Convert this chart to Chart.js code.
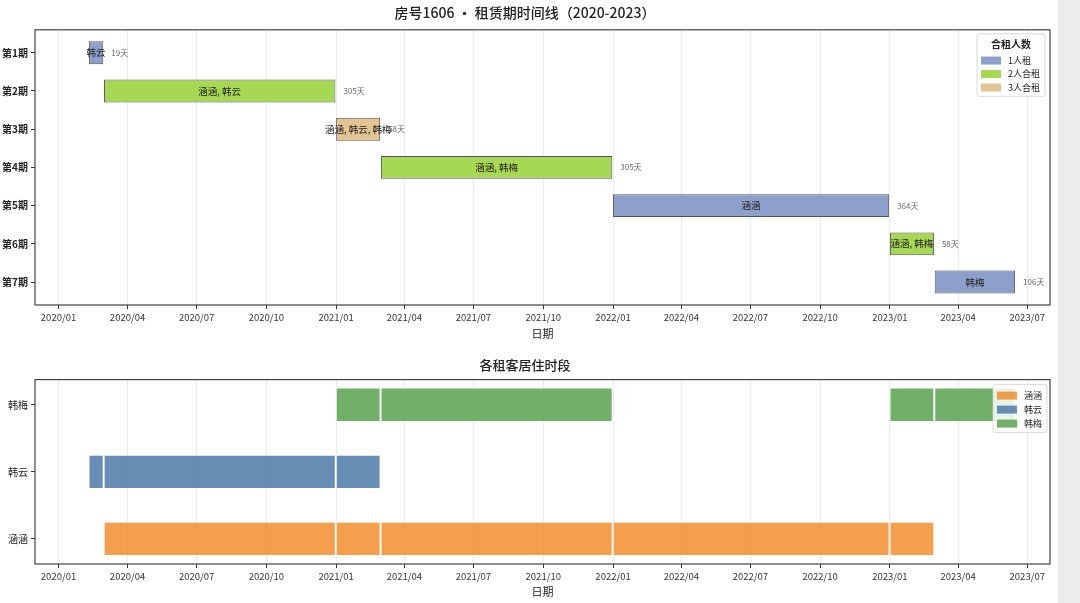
<!DOCTYPE html>
<html>
<head>
<meta charset="utf-8">
<script src="https://cdn.jsdelivr.net/npm/chart.js@4.4.1/dist/chart.umd.min.js"></script>
<style>
  body { margin: 0; background: #fff; width: 1080px; height: 603px; overflow: hidden; position: relative; }
  #top { position: absolute; left: 0; top: 0; }
  #bottom { position: absolute; left: 0; top: 345px; }
  .side { position: absolute; left: 1058px; top: 0; width: 22px; height: 603px; background: #ececec; }
</style>
</head>
<body>
<canvas id="top" width="1058" height="345"></canvas>
<canvas id="bottom" width="1058" height="258"></canvas>
<div class="side"></div>
<script>
// lease periods
const periods = ["第1期", "第2期", "第3期", "第4期", "第5期", "第6期", "第7期"];
const periodStart = ["2020-02-10", "2020-03-01", "2021-01-01", "2021-03-01", "2022-01-01", "2023-01-01", "2023-03-01"];
const periodEnd = ["2020-02-29", "2020-12-31", "2021-02-28", "2021-12-31", "2022-12-31", "2023-02-28", "2023-06-15"];
const periodTenants = ["韩云", "涵涵, 韩云", "涵涵, 韩云, 韩梅", "涵涵, 韩梅", "涵涵", "涵涵, 韩梅", "韩梅"];
const periodDays = [19, 305, 58, 305, 364, 58, 106];
const groupNames = ["1人租", "2人合租", "3人合租"];
const groupColors = ["#8da0cb", "#a6d854", "#e5c494"];
const tenantNames = ["涵涵", "韩云", "韩梅"];
const tenantColors = ["rgba(242,142,43,0.85)", "rgba(78,121,167,0.85)", "rgba(89,161,79,0.85)"];
const tickLabels = ["2020/01", "2020/04", "2020/07", "2020/10", "2021/01", "2021/04", "2021/07", "2021/10",
  "2022/01", "2022/04", "2022/07", "2022/10", "2023/01", "2023/04", "2023/07"];
const axisStart = "2019-12-01";
const axisEnd = "2023-07-31";

Chart.defaults.font.family = "'Noto Sans CJK SC', 'DejaVu Sans', sans-serif";
Chart.defaults.color = "#222";

const toDay = (s) => {
  const [y, m, d] = s.split(/[-\/]/).map(Number);
  return Date.UTC(y, m - 1, d || 1) / 86400000;
};
const tickValues = tickLabels.map(toDay);

// draws the frame round the plot area
const framePlugin = {
  id: "frame",
  afterDraw(chart) {
    const { ctx, chartArea: a } = chart;
    ctx.save();
    ctx.strokeStyle = "#444";
    ctx.lineWidth = 1.2;
    ctx.strokeRect(a.left, a.top, a.right - a.left, a.bottom - a.top);
    ctx.restore();
  },
};

// legend drawn in the top right corner of the plot area
const boxLegend = {
  id: "boxLegend",
  afterDraw(chart, args, opts) {
    const { ctx, chartArea: a } = chart;
    ctx.save();
    ctx.font = "9px 'Noto Sans CJK SC'";
    let textW = 0;
    opts.items.forEach((it) => (textW = Math.max(textW, ctx.measureText(it.label).width)));
    let w = 4 + 20 + 7 + textW + 5;
    if (opts.title) {
      ctx.font = "bold 10px 'Noto Sans CJK SC'";
      w = Math.max(w, ctx.measureText(opts.title).width + 10);
    }
    const titleH = opts.title ? 16 : 0;
    const h = 5 + titleH + opts.items.length * opts.rowH + 1;
    const left = a.right - opts.right - w;
    const top = a.top + opts.top;
    ctx.fillStyle = "rgba(255,255,255,0.85)";
    ctx.strokeStyle = "#d0d0d0";
    ctx.lineWidth = 0.8;
    ctx.beginPath();
    ctx.roundRect(left, top, w, h, 2);
    ctx.fill();
    ctx.stroke();
    ctx.textBaseline = "middle";
    if (opts.title) {
      ctx.fillStyle = "#222";
      ctx.textAlign = "center";
      ctx.font = "bold 10px 'Noto Sans CJK SC'";
      ctx.fillText(opts.title, left + w / 2, top + 10);
    }
    ctx.textAlign = "left";
    ctx.font = "9px 'Noto Sans CJK SC'";
    opts.items.forEach((it, i) => {
      const cy = top + 5 + titleH + opts.rowH * i + opts.rowH / 2 - 1;
      ctx.fillStyle = it.color;
      ctx.fillRect(left + 4, cy - 4, 20, 8);
      ctx.fillStyle = "#222";
      ctx.fillText(it.label, left + 31, cy);
    });
    ctx.restore();
  },
};

// names inside the bars and durations after them
const barText = {
  id: "barText",
  afterDatasetsDraw(chart) {
    const { ctx } = chart;
    ctx.save();
    ctx.textBaseline = "middle";
    chart.data.datasets.forEach((ds, di) => {
      chart.getDatasetMeta(di).data.forEach((el, j) => {
        const p = ds.data[j];
        ctx.fillStyle = "#222";
        ctx.textAlign = "center";
        ctx.font = "9.5px 'Noto Sans CJK SC'";
        ctx.fillText(p.names, (el.x + el.base) / 2, el.y);
        ctx.fillStyle = "#666";
        ctx.textAlign = "left";
        ctx.font = "8px 'Noto Sans CJK SC'";
        ctx.fillText(p.days + "天", el.x + 8, el.y);
      });
    });
    ctx.restore();
  },
};

const xScale = (h) => ({
  type: "linear",
  min: toDay(axisStart),
  max: toDay(axisEnd),
  afterBuildTicks: (s) => (s.ticks = tickValues.map((v) => ({ value: v }))),
  afterFit: (s) => (s.height = h),
  ticks: {
    autoSkip: false,
    maxRotation: 0,
    padding: 3,
    font: { size: 9.5 },
    color: "#333",
    callback: (v, i) => tickLabels[i],
  },
  grid: { color: "#e6e6e6", lineWidth: 0.8, tickColor: "#333", tickLength: 4, tickWidth: 1 },
  border: { display: false },
  title: { display: true, text: "日期", font: { size: 11 }, color: "#222", padding: { top: 0, bottom: 5 } },
});

const yScale = (labels, min, max, reverse, bold) => ({
  type: "linear",
  min: min,
  max: max,
  reverse: reverse,
  offset: false,
  afterBuildTicks: (s) => (s.ticks = labels.map((_, i) => ({ value: i }))),
  afterFit: (s) => (s.width = 35),
  ticks: {
    autoSkip: false,
    padding: 3,
    font: { size: 10, weight: bold ? "bold" : "normal" },
    color: "#222",
    callback: (v) => labels[v],
  },
  grid: { offset: false, drawOnChartArea: false, tickColor: "#333", tickLength: 4 },
  border: { display: false },
});

// top chart: one dataset per group size
const periodSize = periodTenants.map((t) => t.split(",").length);
const topDatasets = groupNames.map((g, gi) => ({
  label: g,
  data: periods
    .map((p, i) => ({ x: [toDay(periodStart[i]), toDay(periodEnd[i])], y: i, names: periodTenants[i], days: periodDays[i] }))
    .filter((_, i) => periodSize[i] === gi + 1),
  backgroundColor: groupColors[gi],
  borderColor: "#555",
  borderWidth: 1,
  borderSkipped: false,
  barPercentage: 0.6,
  categoryPercentage: 1,
  grouped: false,
}));

new Chart(document.getElementById("top"), {
  type: "bar",
  data: { datasets: topDatasets },
  options: {
    indexAxis: "y",
    responsive: false,
    animation: false,
    layout: { padding: { right: 8 } },
    scales: { x: xScale(40), y: yScale(periods, -0.6, 6.6, true, true) },
    plugins: {
      legend: { display: false },
      tooltip: { enabled: false },
      title: {
        display: true,
        text: "房号1606 · 租赁期时间线（2020-2023）",
        font: { size: 14, weight: "500" },
        color: "#222",
        padding: { top: 4, bottom: 9 },
      },
      boxLegend: {
        title: "合租人数",
        right: 5,
        top: 4,
        rowH: 13.5,
        items: groupNames.map((g, i) => ({ label: g, color: groupColors[i] })),
      },
    },
  },
  plugins: [barText, framePlugin, boxLegend],
});

// bottom chart: each tenant's stay, split by lease period
const bottomDatasets = tenantNames.map((t, ti) => ({
  label: t,
  data: periods
    .map((p, i) => ({ x: [toDay(periodStart[i]), toDay(periodEnd[i])], y: ti, who: periodTenants[i] }))
    .filter((d) => d.who.split(", ").includes(t)),
  backgroundColor: tenantColors[ti],
  borderColor: "rgba(255,255,255,0.9)",
  borderWidth: 0.6,
  borderSkipped: false,
  barPercentage: 0.5,
  categoryPercentage: 1,
  grouped: false,
}));

new Chart(document.getElementById("bottom"), {
  type: "bar",
  data: { datasets: bottomDatasets },
  options: {
    indexAxis: "y",
    responsive: false,
    animation: false,
    layout: { padding: { right: 8 } },
    scales: { x: xScale(39), y: yScale(tenantNames, -0.375, 2.375, false, false) },
    plugins: {
      legend: { display: false },
      tooltip: { enabled: false },
      title: {
        display: true,
        text: "各租客居住时段",
        font: { size: 13, weight: "500" },
        color: "#222",
        padding: { top: 12, bottom: 7 },
      },
      boxLegend: {
        right: 3,
        top: 5,
        rowH: 14,
        items: tenantNames.map((t, i) => ({ label: t, color: tenantColors[i] })),
      },
    },
  },
  plugins: [framePlugin, boxLegend],
});
</script>
</body>
</html>
